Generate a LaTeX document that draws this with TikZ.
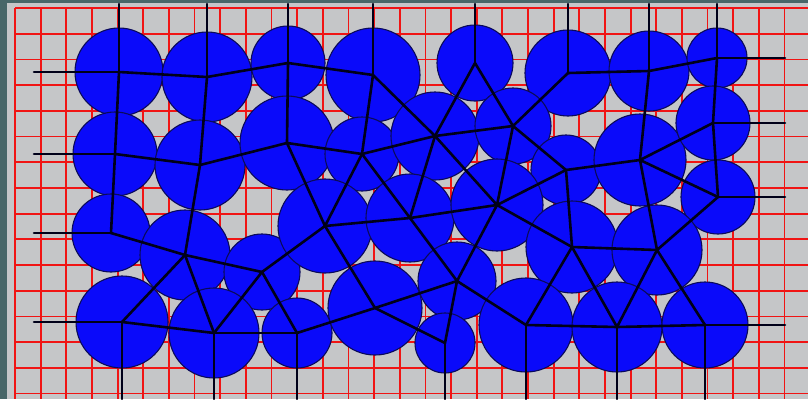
\documentclass[tikz,border=0pt]{standalone}
\usetikzlibrary{calc}
\definecolor{gBlue}{RGB}{10,10,250}
\definecolor{gEdge}{RGB}{10,10,90}
\definecolor{gRed}{RGB}{240,20,20}
\definecolor{gBack}{RGB}{197,198,200}
\definecolor{gFrame}{RGB}{72,102,104}
\tikzset{
  grain/.style={circle, draw=gEdge, fill=gBlue, line width=1.1pt,
                inner sep=0pt, outer sep=0pt},
  contact/.style={draw=black!90!blue, line width=2.6pt, line cap=round},
  gridline/.style={draw=gRed, line width=1.8pt},
}
% grain list: name/x/y/radius (pixels)
\newcommand{\grains}{%
  1/119/72/44, 2/207/77/45, 3/288/63/37, 4/373/75/47, 5/475/63/38,
  6/568/73/43, 7/649/71/40, 8/717/58/30,
  9/115/154/42, 10/200/165/45, 11/287/143/47, 12/362/154/37,
  13/435/136/44, 14/513/126/38, 15/566/170/35, 16/640/160/46,
  17/713/123/37, 18/718/197/37,
  19/111/233/39, 20/185/255/45, 21/262/272/38, 22/325/226/47,
  23/410/218/44, 24/497/205/46, 25/572/247/46, 26/657/250/45,
  27/122/322/46, 28/214/333/45, 29/297/333/35, 30/375/308/47,
  31/457/281/39, 32/445/343/30, 33/526/325/47, 34/617/327/45,
  35/705/325/43}

\begin{document}
\begin{tikzpicture}[x=1pt, y=-1pt]
  \useasboundingbox (0,0) rectangle (808,399);

  % ===== box and grid ===================================================
  \fill[gBack] (0,0) rectangle (808,399);
  \foreach \k in {0,...,30}
    \draw[gridline] (15+25.65*\k, 8) -- (15+25.65*\k, 399);
  \foreach \k in {0,...,15}
    \draw[gridline] (15, 8+25.7*\k) -- (808, 8+25.7*\k);
  \fill[gFrame] (0,0) rectangle (7,399);
  \fill[gFrame] (0,0) rectangle (808,3);

  % walls
  \coordinate (topwall) at (0,4);
  \coordinate (botwall) at (0,399);
  \coordinate (leftwall) at (34,0);
  \coordinate (rightwall) at (785,0);

  % ===== grains =========================================================
  \foreach \n/\x/\y/\r in \grains
    \node[grain, minimum size=2*\r*1pt] (c\n) at (\x,\y) {};

  % ===== contact network ================================================
  \foreach \n/\x/\y/\r in \grains {
    \foreach \m/\X/\Y/\R in \grains {
      \pgfmathtruncatemacro\hit{and(\n<\m, veclen(\X-\x,\Y-\y)<\r+\R+4)}
      \ifnum\hit=1 \draw[contact] (c\n.center) -- (c\m.center); \fi
    }
  }

  % grain to wall
  \foreach \n in {1,2,3,4,5,6,7,8}
    \draw[contact] (c\n.center) -- (c\n.center |- topwall);
  \foreach \n in {27,28,29,32,33,34,35}
    \draw[contact] (c\n.center) -- (c\n.center |- botwall);
  \foreach \n in {1,9,19,27}
    \draw[contact] (c\n.center) -- (c\n.center -| leftwall);
  \foreach \n in {8,17,18,35}
    \draw[contact] (c\n.center) -- (c\n.center -| rightwall);

\end{tikzpicture}
\end{document}
